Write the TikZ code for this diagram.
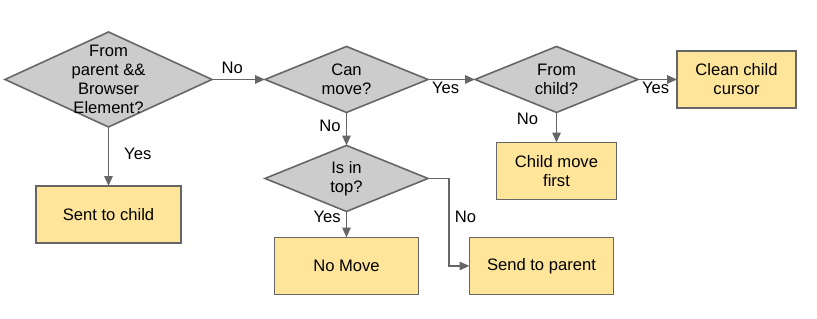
\documentclass[tikz,border=0pt]{standalone}
\usepackage{fontspec}
\setmainfont{Liberation Sans}
\usetikzlibrary{positioning,arrows.meta,shapes.geometric}
\definecolor{linegray}{HTML}{666666}
\definecolor{decgray}{HTML}{CCCCCC}
\definecolor{boxyellow}{HTML}{FFE599}
\tikzset{
  box/.style  ={draw=linegray, fill=boxyellow, line width=1.2pt, outer sep=0pt,
                minimum height=15.08mm, align=center, inner sep=1pt},
  dec/.style  ={diamond, draw=linegray, fill=decgray, line width=1.2pt, outer sep=0pt,
                minimum width=43.13mm, minimum height=17.46mm, inner sep=0pt},
  dtxt/.style ={align=center, inner sep=0pt},
  fl/.style   ={draw=linegray, line width=1.2pt,
                -{Triangle[length=2.6mm,width=2.2mm]}},
  lbl/.style  ={inner sep=1pt},
}

\begin{document}
\begin{tikzpicture}[node distance=8mm, font=\fontsize{12.5}{14.3}\selectfont]
  \useasboundingbox (-28.71mm,21.03mm) rectangle (187.46mm,-63.37mm);

  % --- decisions ------------------------------------------------------
  \node[dec, minimum width=54.77mm, minimum height=25.14mm] (parent) at (0,0) {};
  \node[dec, right=14.02mm of parent]   (canmove)   {};
  \node[dec, right=12.44mm of canmove]  (fromchild) {};
  \node[dec, below=8.73mm of canmove]   (intop)     {};

  \node[dtxt] (parentt)    at (parent)    {From\\parent \&\&\\Browser\\Element?};
  \node[dtxt] (canmovet)   at (canmove)   {Can\\move?};
  \node[dtxt] (fromchildt) at (fromchild) {From\\child?};
  \node[dtxt] (intopt)     at (intop)     {Is in\\top?};

  % --- actions --------------------------------------------------------
  \node[box, minimum width=38.36mm, below=15.61mm of parent]   (sendchild)  {Sent to child};
  \node[box, minimum width=31.49mm, right=10.32mm of fromchild] (clean)     {Clean child\\cursor};
  \node[box, minimum width=31.75mm, below=7.94mm of fromchild] (childfirst) {Child move\\first};
  \node[box, minimum width=38.10mm, below=6.88mm of intop]     (nomove)     {No Move};
  \node[box, minimum width=38.10mm, right=13.49mm of nomove]   (sendparent) {Send to parent};

  % --- arrows ---------------------------------------------------------
  \draw[fl] (parent) -- node[lbl, above=1mm, pos=0.38]{No} (canmove);
  \draw[fl] (parent) -- node[lbl, right=3.6mm, pos=0.45]{Yes} (sendchild);
  \draw[fl] (canmove) -- node[lbl, anchor=north west, pos=0, xshift=0.5mm]{Yes} (fromchild);
  \draw[fl] (fromchild) -- node[lbl, anchor=north west, pos=0, xshift=0.5mm]{Yes} (clean);
  \draw[fl] (canmove) -- node[lbl, left=1mm, pos=0.4]{No} (intop);
  \draw[fl] (fromchild) -- node[lbl, left=4.3mm, pos=0.2]{No} (childfirst);
  \draw[fl] (intop) -- node[lbl, left=1mm, pos=0.2]{Yes} (nomove);
  \draw[fl] (intop.east) -- ++(5.56mm,0) |- node[lbl, right=1mm, pos=0.22]{No} (sendparent.west);
\end{tikzpicture}
\end{document}
